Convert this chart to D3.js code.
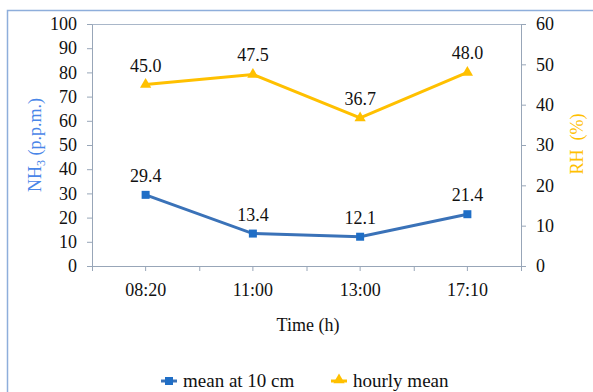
<!DOCTYPE html>
<html><head><meta charset="utf-8">
<script src="https://cdn.jsdelivr.net/npm/d3@7"></script>
<style>body{margin:0;background:#fff}svg{display:block}</style>
</head><body><svg id="c" width="593" height="392"></svg>
<script>
const categories = ["08:20","11:00","13:00","17:10"];
const nh3 = [29.4,13.4,12.1,21.4];
const rh = [45.0,47.5,36.7,48.0];
const leftTicks = [0,10,20,30,40,50,60,70,80,90,100];
const rightTicks = [0,10,20,30,40,50,60];

const FONT = "Liberation Serif";
const FS = "18px";
const svg = d3.select("#c");
const L=92,R=521,T=24,B=266;
const blue="#3a72b8", blueM="#1f6ec6", yellow="#ffc000";

svg.append("rect").attr("x",7.5).attr("y",10.5).attr("width",600).attr("height",400)
  .attr("fill","none").attr("stroke","#8eaedb").attr("stroke-width",1.5);

const x = d3.scaleBand().domain(categories).range([L,R]).padding(0);
const yL = d3.scaleLinear().domain([0,100]).range([B,T]);
const yR = d3.scaleLinear().domain([0,60]).range([B,T]);
const cx = d => x(d)+x.bandwidth()/2;

const axisCol="#98a6b8";
svg.append("line").attr("x1",L).attr("x2",R).attr("y1",T+0.5).attr("y2",T+0.5).attr("stroke","#a9b7c9");

function styleAxis(g){
  g.attr("font-family",null).attr("font-size",null);
  g.selectAll("path").attr("stroke",axisCol);
  g.selectAll("line").attr("stroke",axisCol);
  g.selectAll("text").attr("fill","#111").style("font-family",FONT).style("font-size",FS);
}
const gl = svg.append("g").attr("transform",`translate(${L},0)`)
  .call(d3.axisLeft(yL).tickValues(leftTicks).tickSize(5).tickPadding(10).tickSizeOuter(0));
styleAxis(gl);
const gr = svg.append("g").attr("transform",`translate(${R},0)`)
  .call(d3.axisRight(yR).tickValues(rightTicks).tickSize(5).tickPadding(10).tickSizeOuter(0));
styleAxis(gr);
const gx = svg.append("g").attr("transform",`translate(0,${B})`)
  .call(d3.axisBottom(x).tickSize(5).tickPadding(12).tickSizeOuter(0));
styleAxis(gx);
const bounds = categories.slice(1).map(c=>x(c)).concat([L,R]);
gx.selectAll(".bt").data(bounds).enter().append("line").attr("class","bt")
  .attr("x1",d=>d+0.5).attr("x2",d=>d+0.5).attr("y1",0).attr("y2",5).attr("stroke",axisCol);

function txt(sel, fs){ return sel.style("font-family",FONT).style("font-size",fs||FS); }

const t1 = txt(svg.append("text")).attr("transform","translate(41,145) rotate(-90)").attr("text-anchor","middle")
  .attr("fill","#4a86e8");
t1.append("tspan").text("NH");
t1.append("tspan").text("3").style("font-size","12px").attr("dy",4);
t1.append("tspan").text(" (p.p.m.)").attr("dy",-4);
txt(svg.append("text")).attr("transform","translate(583,144) rotate(-90)").attr("text-anchor","middle")
  .attr("fill",yellow).attr("xml:space","preserve").text("RH  (%)");
txt(svg.append("text")).attr("x",308).attr("y",331).attr("text-anchor","middle").attr("fill","#111").text("Time (h)");

const lineL = d3.line().x((d,i)=>cx(categories[i])).y(d=>yL(d));
const lineR = d3.line().x((d,i)=>cx(categories[i])).y(d=>yR(d));
svg.append("path").attr("d",lineL(nh3)).attr("fill","none").attr("stroke",blue).attr("stroke-width",3);
svg.append("path").attr("d",lineR(rh)).attr("fill","none").attr("stroke",yellow).attr("stroke-width",3);

svg.selectAll(".sq").data(nh3).enter().append("rect")
  .attr("x",(d,i)=>cx(categories[i])-4).attr("y",d=>yL(d)-4).attr("width",8).attr("height",8).attr("fill",blueM);
const tri = d3.symbol().type(d3.symbolTriangle).size(55);
svg.selectAll(".tr").data(rh).enter().append("path").attr("d",tri)
  .attr("transform",(d,i)=>`translate(${cx(categories[i])},${yR(d)})`).attr("fill",yellow);

txt(svg.selectAll(".ln").data(nh3).enter().append("text"))
  .attr("x",(d,i)=>cx(categories[i])).attr("y",d=>yL(d)-13).attr("text-anchor","middle")
  .attr("fill","#111").text(d=>d.toFixed(1));
txt(svg.selectAll(".lr").data(rh).enter().append("text"))
  .attr("x",(d,i)=>cx(categories[i])).attr("y",d=>yR(d)-13).attr("text-anchor","middle")
  .attr("fill","#111").text(d=>d.toFixed(1));

const lg = svg.append("g");
lg.append("line").attr("x1",161).attr("x2",177).attr("y1",381).attr("y2",381).attr("stroke",blue).attr("stroke-width",3);
lg.append("rect").attr("x",165).attr("y",377).attr("width",8).attr("height",8).attr("fill",blueM);
txt(lg.append("text"),"19px").attr("x",183).attr("y",387).attr("fill","#111").text("mean at 10 cm");
lg.append("line").attr("x1",331).attr("x2",347).attr("y1",381).attr("y2",381).attr("stroke",yellow).attr("stroke-width",3);
lg.append("path").attr("d",tri).attr("transform","translate(339,380)").attr("fill",yellow);
txt(lg.append("text"),"19px").attr("x",353).attr("y",387).attr("fill","#111").text("hourly mean");
</script></body></html>
